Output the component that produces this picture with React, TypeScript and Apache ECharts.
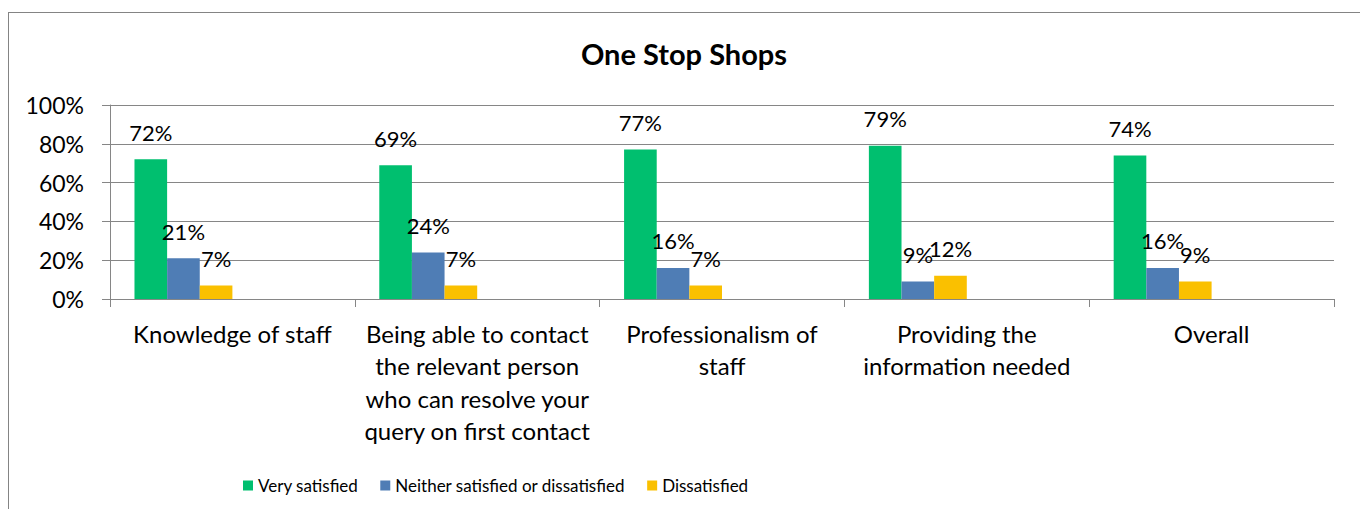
import React, { useEffect, useRef } from "react";
import * as echarts from "echarts";

const categories = [
  "Knowledge of staff",
  "Being able to contact\nthe relevant person\nwho can resolve your\nquery on first contact",
  "Professionalism of\nstaff",
  "Providing the\ninformation needed",
  "Overall",
];
const seriesNames = ["Very satisfied", "Neither satisfied or dissatisfied", "Dissatisfied"];
const verySatisfied = [72, 69, 77, 79, 74];
const neither = [21, 24, 16, 9, 16];
const dissatisfied = [7, 7, 7, 12, 9];
const colors = ["#00BF6F", "#4F7DB5", "#FAC000"];
const yTicks = [0, 20, 40, 60, 80, 100];

const FONT = "Lato, 'Open Sans', sans-serif";

export default function App() {
  const ref = useRef<HTMLDivElement>(null);
  useEffect(() => {
    if (!ref.current) return;
    const chart = echarts.init(ref.current, null, { renderer: "svg" });
    const values = [verySatisfied, neither, dissatisfied];
    const realSeries = values.map((d, i) => ({
      name: seriesNames[i],
      type: "bar",
      data: d,
      barGap: 0,
      barCategoryGap: "20%",
      itemStyle: { color: colors[i] },
      label: {
        show: true,
        position: "top",
        distance: 16,
        formatter: "{c}%",
        fontFamily: FONT,
        fontSize: 22,
        color: "#000",
      },
    }));
    const dummySeries = [0, 1, 2].map((i) => ({
      name: "_hidden" + i,
      type: "bar",
      data: categories.map(() => "-"),
      barGap: 0,
      barCategoryGap: "20%",
    }));
    chart.setOption({
      animation: false,
      textStyle: { fontFamily: FONT },
      title: {
        text: "One Stop Shops",
        left: "center",
        top: 34,
        textStyle: { fontFamily: FONT, fontSize: 29, fontWeight: "bold", color: "#000" },
      },
      legend: {
        data: seriesNames,
        left: 243,
        top: 477,
        padding: 0,
        itemWidth: 10,
        itemHeight: 10,
        itemGap: 22,
        icon: "rect",
        textStyle: { fontFamily: FONT, fontSize: 17, color: "#000" },
      },
      grid: { left: 110, right: 34, top: 105, bottom: 218, containLabel: false },
      xAxis: {
        type: "category",
        data: categories,
        boundaryGap: true,
        axisLine: { lineStyle: { color: "#868686", width: 1 } },
        axisTick: { show: true, length: 8, lineStyle: { color: "#868686" } },
        axisLabel: {
          interval: 0,
          margin: 18,
          fontFamily: FONT,
          fontSize: 24,
          lineHeight: 32.5,
          color: "#000",
        },
      },
      yAxis: {
        type: "value",
        min: 0,
        max: 100,
        interval: 20,
        axisLine: { show: true, lineStyle: { color: "#868686", width: 1 } },
        axisTick: { show: true, length: 8, lineStyle: { color: "#868686" } },
        splitLine: { show: true, lineStyle: { color: "#868686", width: 1 } },
        axisLabel: {
          margin: 26,
          fontFamily: FONT,
          fontSize: 23,
          color: "#000",
          formatter: (v: number) => (yTicks.includes(v) ? v + "%" : ""),
        },
      },
      series: [...realSeries, ...dummySeries],
    });
    return () => chart.dispose();
  }, []);
  return (
    <div
      style={{
        position: "relative",
        width: 1368,
        height: 517,
        margin: -8,
        overflow: "hidden",
        background: "#fff",
      }}
    >
      <div
        style={{
          position: "absolute",
          left: 7,
          top: 12,
          width: 1357,
          height: 600,
          borderLeft: "2px solid #848484",
          borderRight: "2px solid #848484",
          borderTop: "1.5px solid #848484",
          boxSizing: "border-box",
        }}
      />
      <div
        ref={ref}
        style={{ position: "absolute", left: 0, top: 0, width: 1368, height: 517 }}
      />
    </div>
  );
}
